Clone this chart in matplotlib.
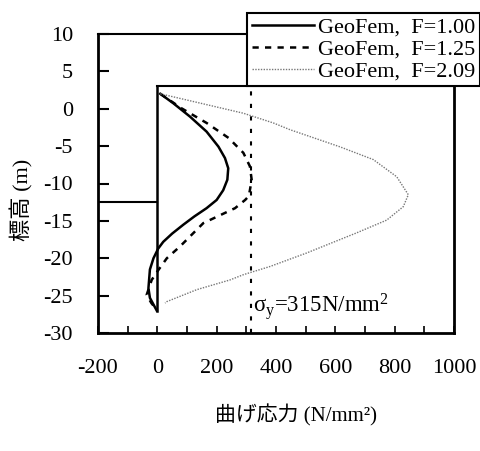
import matplotlib
matplotlib.use("Agg")
import matplotlib.pyplot as plt

plt.rcParams["mathtext.fontset"] = "custom"
plt.rcParams["mathtext.rm"] = "Liberation Serif"
plt.rcParams["mathtext.it"] = "Liberation Serif:italic"

# Bending stress profiles along the pile (stress in N/mm^2, elevation in m)
elev_f100 = [2.0, 0.73, -1.05, -3.06, -5.07, -6.6, -7.96, -9.5, -10.9, -12.2,
             -13.3, -14.4, -15.5, -16.7, -17.8, -18.7, -20.0, -21.5, -24.0,
             -25.3, -27.0]
stress_f100 = [10, 54, 110, 166, 206, 228, 239, 236, 222, 200,
               166, 125, 88, 50, 20, 3, -13, -25, -30,
               -25, -2]

elev_f125 = [2.0, 0.05, -1.9, -3.9, -5.9, -7.7, -9.5, -10.9, -11.7, -12.2,
             -13.3, -15.3, -18.4, -20.0, -21.6, -22.9, -24.9, -26.0, -27.0]
stress_f125 = [10, 82, 166, 240, 290, 312, 318, 312, 308, 296,
               262, 155, 77, 32, 3, -19, -36, -20, 0]

elev_f209 = [2.0, -0.6, -1.9, -2.8, -5.1, -6.8, -9.1, -11.5, -13.1, -14.9,
             -16.6, -19.3, -21.1, -22.2, -22.9, -24.2, -25.8, -26.0]
stress_f209 = [10, 290, 391, 447, 616, 728, 807, 846, 829, 773,
               672, 503, 380, 290, 245, 133, 32, 26]

labels = ["GeoFem,  F=1.00", "GeoFem,  F=1.25", "GeoFem,  F=2.09"]

# Structure outline and yield stress
yield_stress = 315
pile_top, pile_toe = 3.0, -27.0
left_ground = -12.5

x_ticks = [-200, 0, 200, 400, 600, 800, 1000]
y_ticks = [10, 5, 0, -5, -10, -15, -20, -25, -30]

serif = ["Liberation Serif", "Noto Sans CJK JP"]

fig = plt.figure(figsize=(4.8, 4.51), dpi=100)
ax = fig.add_axes([98 / 480, 1 - 333 / 451, (454 - 98) / 480, (333 - 34) / 451])

# Wall and ground lines
ax.plot([0, 1000], [pile_top, pile_top], color="black", lw=1.5, zorder=2)
ax.plot([0, 0], [pile_top, pile_toe], color="black", lw=1.8, zorder=2)
ax.plot([-200, 0], [left_ground, left_ground], color="black", lw=1.5, zorder=2)

l1, = ax.plot(stress_f100, elev_f100, color="black", lw=1.8, label=labels[0])
l2, = ax.plot(stress_f125, elev_f125, color="black", lw=1.8,
              linestyle=(0, (2.5, 2.5)), label=labels[1])
l3, = ax.plot(stress_f209, elev_f209, color="#777777", lw=1.0,
              linestyle=(0, (1, 1)), label=labels[2])

ax.axvline(yield_stress, color="black", lw=1.5, linestyle=(0, (2, 4)))
ax.text(322, -27.2, r"$\mathrm{σ_y}$=315N/mm$^\mathrm{2}$",
        fontsize=16.5, family=serif, ha="left", va="baseline")

ax.set_xlim(-200, 1000)
ax.set_ylim(-30, 10)
ax.set_xticks(x_ticks)
ax.set_xticks(range(-200, 1001, 100), minor=True)
ax.set_yticks(y_ticks)
ax.set_xticklabels([str(v) for v in x_ticks], family=serif, fontsize=16)
ax.set_yticklabels([str(v) for v in y_ticks], family=serif, fontsize=16)
ax.tick_params(axis="x", which="both", direction="in", length=5, width=1.2, pad=19)
ax.tick_params(axis="y", direction="in", length=8, width=1.5, pad=18)
ax.tick_params(axis="x", which="minor", labelbottom=False)

for side, w in (("left", 2.0), ("bottom", 2.0), ("right", 2.0), ("top", 1.5)):
    ax.spines[side].set_linewidth(w)

ax.set_xlabel("曲げ応力 (N/mm²)", family=serif, fontsize=15)
ax.set_ylabel("標高 (m)", family=serif, fontsize=16)
ax.xaxis.set_label_coords((296 - 98) / 356, (333 - 404) / 299)
ax.yaxis.set_label_coords((33 - 98) / 356, (333 - 200) / 299)

leg = fig.legend(handles=[l1, l2, l3], loc="upper right",
                 bbox_to_anchor=(1.0, 1 - 13 / 451), bbox_transform=fig.transFigure,
                 borderaxespad=0, frameon=True, fancybox=False, framealpha=1,
                 edgecolor="black", handlelength=2.8, handletextpad=0.2,
                 labelspacing=0.05, borderpad=0.2,
                 prop={"family": serif, "size": 16})
leg.get_frame().set_linewidth(1.5)

fig.savefig("out.png", dpi=100)
